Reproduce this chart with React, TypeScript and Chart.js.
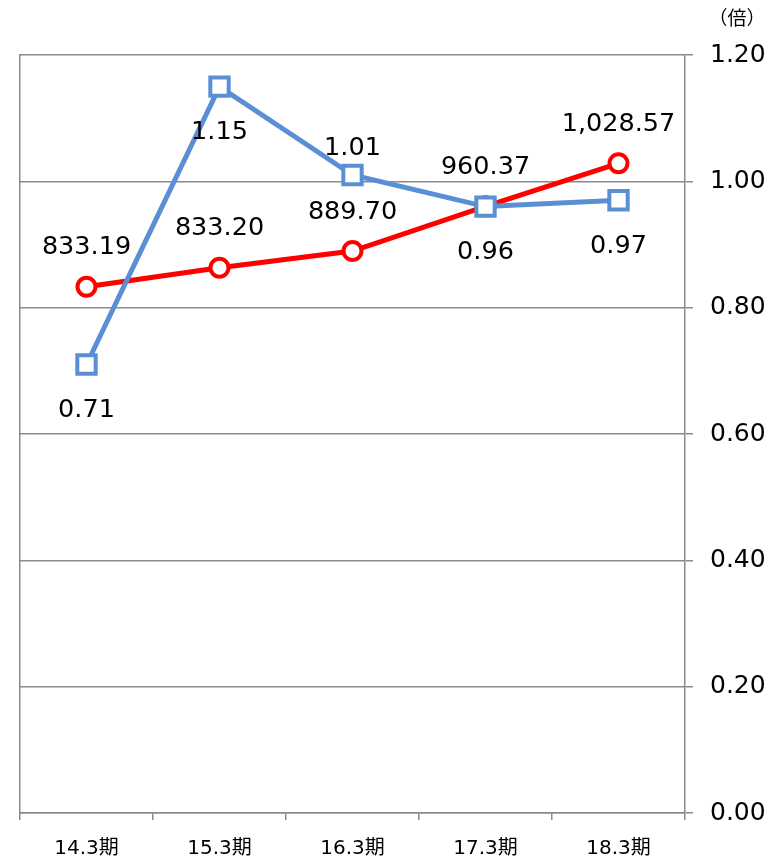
import React, { useEffect, useRef } from "react";
import { Chart, registerables } from "chart.js";

Chart.register(...registerables);

const categories = ["14.3期", "15.3期", "16.3期", "17.3期", "18.3期"];
const blueValues = [0.71, 1.15, 1.01, 0.96, 0.97];
const redValues = [833.19, 863.2, 889.7, 960.37, 1028.57];
const redLabels = ["833.19", "833.20", "889.70", "960.37", "1,028.57"];
const yTicks = [0, 0.2, 0.4, 0.6, 0.8, 1.0, 1.2];
const unitLabel = "（倍）";

const GRID = "#8a8a8a";
const BLUE = "#5a8fd6";
const RED = "#ff0000";

const labelPlugin = {
  id: "valueLabels",
  afterDatasetsDraw(chart: any) {
    const ctx = chart.ctx;
    ctx.save();
    ctx.font = '25.5px "DejaVu Sans", Verdana, sans-serif';
    ctx.fillStyle = "#000";
    ctx.textAlign = "center";
    ctx.textBaseline = "middle";
    chart.data.datasets.forEach((ds: any, di: number) => {
      const meta = chart.getDatasetMeta(di);
      meta.data.forEach((pt: any, i: number) => {
        const pos = ds.labelPos[i];
        const text = ds.labelText[i];
        const off = pos === "above" ? ds.aboveOffset : -ds.belowOffset;
        ctx.fillText(text, pt.x, pt.y - off);
      });
    });
    ctx.font = '19px "Noto Sans CJK JP", sans-serif';
    ctx.fillText(unitLabel, 737, 18);
    ctx.restore();
  },
};

export default function App() {
  const ref = useRef<HTMLCanvasElement | null>(null);
  useEffect(() => {
    if (!ref.current) return;
    const chart = new Chart(ref.current, {
      type: "line",
      data: {
        labels: categories,
        datasets: [
          {
            label: "倍率",
            data: blueValues,
            yAxisID: "y",
            borderColor: BLUE,
            backgroundColor: "#ffffff",
            borderWidth: 5,
            pointStyle: "rect",
            pointRadius: 13,
            pointBorderWidth: 4,
            pointBackgroundColor: "#ffffff",
            pointBorderColor: BLUE,
            tension: 0,
            labelText: blueValues.map((v) => v.toFixed(2)),
            labelPos: ["below", "below", "above", "below", "below"],
            aboveOffset: 27,
            belowOffset: 46,
          } as any,
          {
            label: "値",
            data: redValues,
            yAxisID: "y2",
            borderColor: RED,
            backgroundColor: "#ffffff",
            borderWidth: 5,
            pointStyle: "circle",
            pointRadius: 9,
            pointBorderWidth: 4,
            pointBackgroundColor: "#ffffff",
            pointBorderColor: RED,
            tension: 0,
            labelText: redLabels,
            labelPos: ["above", "above", "above", "above", "above"],
            aboveOffset: 39,
            belowOffset: 39,
          } as any,
        ],
      },
      options: {
        responsive: false,
        animation: false,
        layout: { padding: { top: 55, left: 20, right: 0, bottom: 0 } },
        plugins: {
          legend: { display: false },
          tooltip: { enabled: false },
        },
        scales: {
          x: {
            type: "category",
            offset: true,
            grid: {
              offset: true,
              drawOnChartArea: false,
              drawTicks: true,
              tickLength: 7,
              color: GRID,
              lineWidth: 1.5,
            },
            border: { display: true, color: GRID, width: 1.5 },
            ticks: {
              color: "#000",
              padding: 17,
              font: { family: '"DejaVu Sans", "Noto Sans CJK JP", sans-serif', size: 20 },
            },
            afterFit: (s: any) => {
              s.height = 46;
            },
          },
          y: {
            position: "right",
            min: 0,
            max: 1.2,
            afterBuildTicks: (s: any) => {
              s.ticks = yTicks.map((v) => ({ value: v }));
            },
            grid: {
              color: GRID,
              lineWidth: 1.5,
              drawTicks: true,
              tickLength: 8,
            },
            border: { display: true, color: GRID, width: 1.5 },
            ticks: {
              color: "#000",
              padding: 17,
              font: { family: '"DejaVu Sans", sans-serif', size: 25 },
              callback: (v: any) => Number(v).toFixed(2),
            },
            afterFit: (s: any) => {
              s.width = 94;
            },
          },
          y2: {
            position: "left",
            min: 0,
            max: 1200,
            display: true,
            ticks: { display: false },
            grid: { drawOnChartArea: false, drawTicks: false },
            border: { display: true, color: GRID, width: 1.5 },
            afterFit: (s: any) => {
              s.width = 0;
            },
          },
        },
      },
      plugins: [labelPlugin],
    });
    return () => chart.destroy();
  }, []);
  return (
    <div style={{ position: "fixed", top: 0, left: 0, background: "#fff" }}>
      <canvas ref={ref} width={779} height={859} style={{ display: "block", width: 779, height: 859 }} />
    </div>
  );
}
